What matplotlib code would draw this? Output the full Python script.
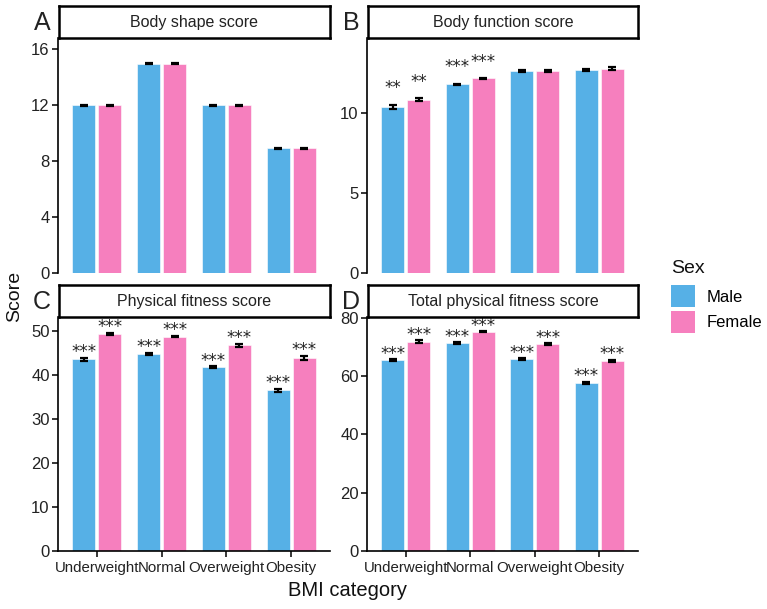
import matplotlib
matplotlib.use("Agg")
import matplotlib.pyplot as plt
from matplotlib.patches import Patch
import numpy as np

plt.rcParams['font.family'] = ['Liberation Sans', 'DejaVu Sans']

categories = ["Underweight", "Normal", "Overweight", "Obesity"]
sexes = ["Male", "Female"]

# Panel A: Body shape score
shape_male = [11.98, 14.95, 11.98, 8.92]
shape_female = [11.98, 14.95, 11.98, 8.92]
shape_male_se = [0.03, 0.03, 0.03, 0.03]
shape_female_se = [0.03, 0.03, 0.03, 0.03]
shape_male_sig = ["", "", "", ""]
shape_female_sig = ["", "", "", ""]

# Panel B: Body function score
func_male = [10.39, 11.81, 12.62, 12.69]
func_female = [10.85, 12.17, 12.62, 12.79]
func_male_se = [0.15, 0.04, 0.05, 0.05]
func_female_se = [0.10, 0.03, 0.05, 0.12]
func_male_sig = ["**", "***", "", ""]
func_female_sig = ["**", "***", "", ""]

# Panel C: Physical fitness score
fit_male = [43.6, 44.8, 41.75, 36.5]
fit_female = [49.3, 48.7, 46.75, 43.9]
fit_male_se = [0.35, 0.25, 0.2, 0.3]
fit_female_se = [0.3, 0.15, 0.3, 0.4]
fit_male_sig = ["***", "***", "***", "***"]
fit_female_sig = ["***", "***", "***", "***"]

# Panel D: Total physical fitness score
tot_male = [65.6, 71.3, 65.9, 57.7]
tot_female = [71.8, 75.3, 71.1, 65.2]
tot_male_se = [0.4, 0.3, 0.35, 0.45]
tot_female_se = [0.45, 0.3, 0.35, 0.5]
tot_male_sig = ["***", "***", "***", "***"]
tot_female_sig = ["***", "***", "***", "***"]

titles = ["Body shape score", "Body function score",
          "Physical fitness score", "Total physical fitness score"]
letters = ["A", "B", "C", "D"]
yticks_list = [[0, 4, 8, 12, 16], [0, 5, 10], [0, 10, 20, 30, 40, 50], [0, 20, 40, 60, 80]]

BLUE = "#56B0E6"
PINK = "#F67FBE"

W, H = 767, 609
fig = plt.figure(figsize=(W / 100, H / 100), dpi=100)

def fx(px):
    return px / W

def fy(px):
    return 1 - px / H

panels = [
    dict(male=shape_male, female=shape_female, mse=shape_male_se, fse=shape_female_se,
         msig=shape_male_sig, fsig=shape_female_sig, ylim=16.8, pad=0, xl=58, xr=330, yt=38, yb=273, xaxis=False),
    dict(male=func_male, female=func_female, mse=func_male_se, fse=func_female_se,
         msig=func_male_sig, fsig=func_female_sig, ylim=14.7, pad=1.1, xl=367, xr=638, yt=38, yb=273, xaxis=False),
    dict(male=fit_male, female=fit_female, mse=fit_male_se, fse=fit_female_se,
         msig=fit_male_sig, fsig=fit_female_sig, ylim=53.2, pad=1.6, xl=58, xr=330, yt=317, yb=551, xaxis=True),
    dict(male=tot_male, female=tot_female, mse=tot_male_se, fse=tot_female_se,
         msig=tot_male_sig, fsig=tot_female_sig, ylim=80.3, pad=2.2, xl=367, xr=638, yt=317, yb=551, xaxis=True),
]

x = np.arange(len(categories))
off = 0.2
bw = 0.355

for i, p in enumerate(panels):
    ax = fig.add_axes([fx(p['xl']), fy(p['yb']), fx(p['xr'] - p['xl']), (p['yb'] - p['yt']) / H])
    ax.bar(x - off, p['male'], width=bw, color=BLUE, edgecolor='white', linewidth=0.4, zorder=2)
    ax.bar(x + off, p['female'], width=bw, color=PINK, edgecolor='white', linewidth=0.4, zorder=2)
    ax.errorbar(x - off, p['male'], yerr=p['mse'], fmt='none', ecolor='black', elinewidth=1.6, capsize=3.2, capthick=1.6, zorder=3)
    ax.errorbar(x + off, p['female'], yerr=p['fse'], fmt='none', ecolor='black', elinewidth=1.6, capsize=3.2, capthick=1.6, zorder=3)
    for j in range(len(categories)):
        for xs, v, se, s in [(x[j] - off, p['male'][j], p['mse'][j], p['msig'][j]),
                             (x[j] + off, p['female'][j], p['fse'][j], p['fsig'][j])]:
            if s:
                ax.annotate(s, xy=(xs, v + se + p['pad']), xytext=(0, -4.5), textcoords='offset points',
                            ha='center', va='baseline', fontsize=12, color='#222222',
                            family=['DejaVu Sans'])
    ax.set_xlim(-0.6, len(categories) - 0.4)
    ax.set_ylim(0, p['ylim'])
    ax.set_yticks(yticks_list[i])
    ax.tick_params(axis='y', labelsize=12, colors='black', labelcolor='#222222', length=4, width=1.1, pad=2)
    for s in ['top', 'right']:
        ax.spines[s].set_visible(False)
    ax.spines['left'].set_linewidth(1.2)
    if p['xaxis']:
        ax.spines['bottom'].set_linewidth(1.2)
        ax.set_xticks(x)
        ax.set_xticklabels(categories)
        ax.tick_params(axis='x', labelsize=10.8, labelcolor='#222222', length=4, width=1.1, pad=3)
    else:
        ax.spines['bottom'].set_visible(False)
        ax.set_xticks([])
    # strip
    sax = fig.add_axes([fx(p['xl'] + 1), fy(p['yt']), fx(p['xr'] - p['xl'] - 1), 32 / H])
    sax.set_xticks([]); sax.set_yticks([])
    for s in sax.spines.values():
        s.set_linewidth(1.8)
    sax.text(0.5, 0.48, titles[i], ha='center', va='center', fontsize=11.5, color='#222222', transform=sax.transAxes)
    # panel letter
    fig.text(fx(p['xl'] - 16), fy(p['yt'] - 15), letters[i], ha='center', va='center', fontsize=18, color='#222222')

fig.text(fx(15), fy(296), "Score", rotation=90, ha='center', va='center', fontsize=14, color='#111111')
fig.text(fx(348), fy(590), "BMI category", ha='center', va='center', fontsize=14.5, color='#111111')

fig.text(fx(671), fy(273), "Sex", ha='left', va='baseline', fontsize=14, color='#111111')
handles = [Patch(facecolor=BLUE, edgecolor='none'), Patch(facecolor=PINK, edgecolor='none')]
leg = fig.legend(handles, sexes, loc='upper left', bbox_to_anchor=(fx(671), fy(285)),
                 frameon=False, fontsize=12, handlelength=1.45, handleheight=1.7,
                 labelspacing=0.2, handletextpad=0.7, borderpad=0, borderaxespad=0)

fig.savefig("out.png", dpi=100)
